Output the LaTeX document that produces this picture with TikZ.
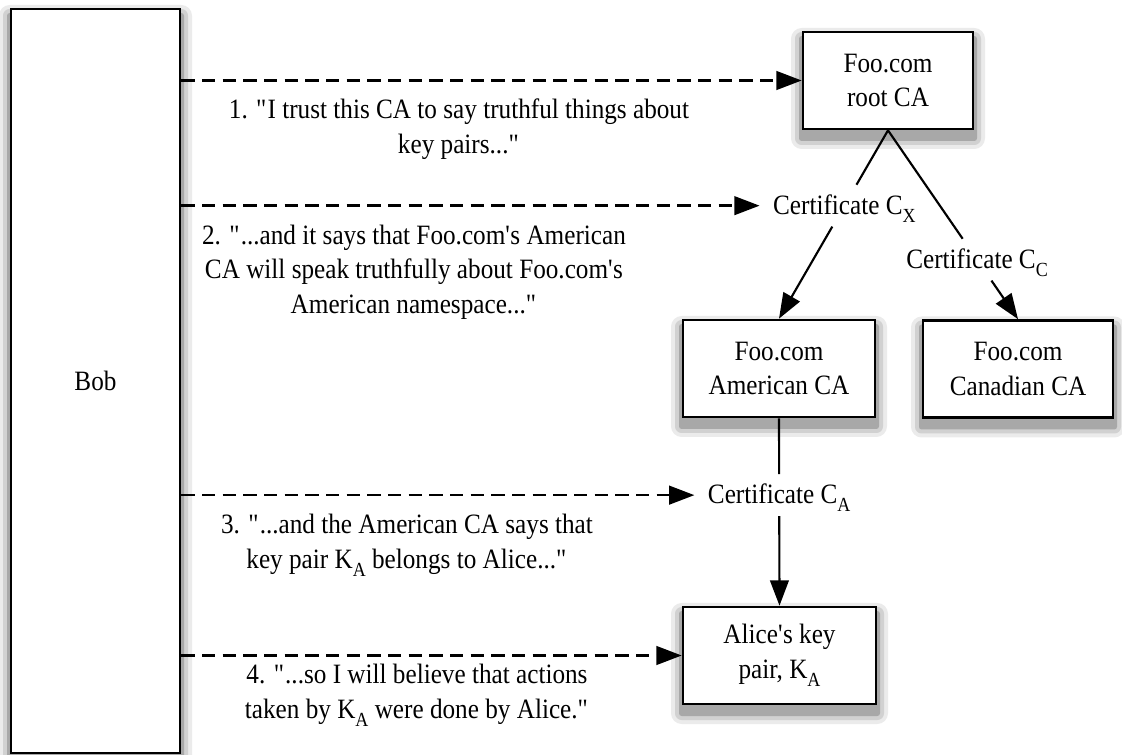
\documentclass[tikz,border=0pt]{standalone}
\usepackage{fontspec}
\setmainfont{Liberation Serif}[FakeStretch=0.9]
\usetikzlibrary{arrows.meta,backgrounds}

\newcommand\sq{\textquotesingle}
\newcommand\dq{\textquotedbl}
\newcommand\lowsub[1]{\raisebox{-6pt}{\fontsize{15}{15}\selectfont #1}}

\tikzset{
  ca/.style={draw, line width=2pt, fill=white, align=center,
    minimum height=72.75pt, inner sep=0pt},
  cert/.style={inner xsep=10pt, inner ysep=6pt, text height=16pt, text depth=3pt},
  sign/.style={line width=1.6pt},
  msg/.style={line width=1.8pt, dash pattern=on 10pt off 5.5pt, ->},
  said/.style={align=center},
}

\begin{document}
\begin{tikzpicture}[x=0.75pt, y=-0.75pt,
    >={Triangle[length=19pt,width=14pt]},
    every node/.style={font=\fontsize{21}{26}\selectfont}]
  \useasboundingbox (0,0) rectangle (1122,755);

  % Bob
  \node[ca, minimum width=126.75pt, minimum height=558pt] (bob) at (95.5,381) {Bob};

  % certifikační autority
  \node[ca, minimum width=127.5pt] (root) at (888,80.5) {Foo.com\\root CA};
  \node[ca, minimum width=144pt] (american) at (779,368.5) {Foo.com\\American CA};
  \node[ca, minimum width=142.5pt] (canadian) at (1018,369) {Foo.com\\Canadian CA};
  \node[ca, minimum width=144.75pt] (alice) at (779.5,655.5) {Alice\sq s key\\pair, K\lowsub{A}};

  % stíny
  \begin{scope}[on background layer]
    \foreach \n in {bob,root,american,canadian,alice} {
      \fill[black!8, rounded corners=8pt] ([xshift=-8pt,yshift=-14pt]\n.south west) rectangle ([xshift=8pt,yshift=2pt]\n.north east);
      \fill[black!18, rounded corners=5pt] ([xshift=-5pt,yshift=-11pt]\n.south west) rectangle ([xshift=5pt,yshift=-1pt]\n.north east);
      \fill[black!34, rounded corners=2pt] ([xshift=-2pt,yshift=-8pt]\n.south west) rectangle ([xshift=2pt,yshift=-4pt]\n.north east);
    }
  \end{scope}

  % certifikáty
  \path (root.south) -- node[cert, pos=0.4] (certX) {Certificate C\lowsub{X}} (american.north);
  \path (root.south) -- node[cert, pos=0.685] (certC) {Certificate C\lowsub{C}} (canadian.north);
  \path (american.south) -- node[cert, pos=0.41] (certA) {Certificate C\lowsub{A}} (alice.north);

  \draw[sign] (root.south) -- (certX);
  \draw[sign, ->] (certX) -- (american.north);
  \draw[sign] (root.south) -- (certC);
  \draw[sign, ->] (certC) -- (canadian.north);
  \draw[sign] (american.south) -- (certA);
  \draw[sign, ->] (certA) -- (alice.north);

  % Bobovy úvahy
  \draw[msg] (bob.east |- root.west) -- (root.west);
  \draw[msg] (bob.east |- certX.west) -- (certX.west);
  \draw[msg] (bob.east |- certA.west) -- (certA.west);
  \draw[msg] (bob.east |- alice.west) -- (alice.west);

  \node[said] (said1) at (459,129) {1. \dq I trust this CA to say truthful things about\\key pairs...\dq};
  \node[said] (said2) at (414,272) {2. \dq...and it says that Foo.com\sq s American\\CA will speak truthfully about Foo.com\sq s\\American namespace...\dq};
  \node[said] (said3) at (407,545) {3. \dq...and the American CA says that\\key pair K\lowsub{A} belongs to Alice...\dq};
  \node[said] (said4) at (417,695) {4. \dq...so I will believe that actions\\taken by K\lowsub{A} were done by Alice.\dq};
\end{tikzpicture}
\end{document}
